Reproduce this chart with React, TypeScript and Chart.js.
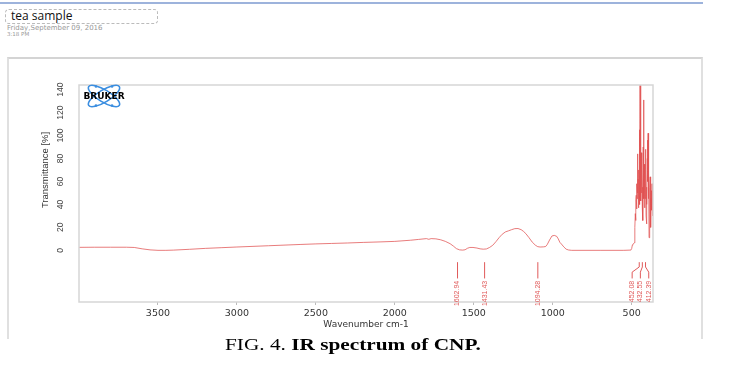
import React, { useEffect, useRef } from "react";
import { Chart, registerables } from "chart.js";

Chart.register(...registerables);

// ---- Data ----
const wavenumbers = [
  4000, 3900, 3800, 3700, 3650, 3600, 3550, 3500, 3450, 3400, 3300, 3200, 3100, 3000,
  2800, 2600, 2500, 2400, 2300, 2200, 2100, 2000, 1900, 1850, 1800, 1785, 1770, 1740,
  1710, 1680, 1650, 1630, 1610, 1590, 1570, 1555, 1540, 1525, 1505, 1480, 1460, 1440,
  1420, 1400, 1380, 1360, 1340, 1320, 1300, 1280, 1260, 1240, 1220, 1200, 1185, 1170,
  1150, 1130, 1110, 1095, 1080, 1060, 1045, 1035, 1020, 1005, 990, 975, 965, 955, 945,
  930, 915, 900, 880, 700, 550, 510, 505, 500, 496, 492, 488, 484, 481, 479, 477, 475,
  473, 471, 469, 467, 465, 463, 461, 459, 457, 455, 453, 451, 449, 447, 445, 443, 441,
  439, 437, 435, 433, 431, 429, 427, 425, 424, 422, 420, 418, 416, 414, 412, 411, 409,
  407, 405, 403, 401, 400, 398, 396, 394, 392, 390, 388, 386, 384, 383, 381, 379, 377,
  375, 373, 371, 369, 367,
];
const transmittance = [
  2.6, 2.7, 2.7, 2.7, 2.5, 1.3, 0.4, 0.0, 0.0, 0.2, 0.9, 1.7, 2.3, 2.9,
  4.0, 5.1, 5.6, 6.0, 6.4, 6.9, 7.3, 7.8, 8.8, 9.5, 10.2, 9.6, 10.2, 10.0,
  9.2, 7.8, 5.8, 3.8, 1.5, 0.4, 0.2, 0.5, 1.8, 2.5, 2.5, 2.0, 1.3, 1.0,
  1.2, 2.5, 4.4, 7.5, 11, 14, 16, 17, 18, 18.9, 19, 18, 16.5, 14.5,
  11, 7.2, 4.5, 3.2, 2.9, 3.0, 3.3, 5, 9, 12.5, 13, 12.2, 10, 7, 5.5,
  3, 1, 0.3, 0, 0, 0, 0.2, 0.3, 1.5, 4.5, 5.5, 6.0, 6.5, 9, 20, 32, 26,
  44, 48, 36, 58, 45, 84, 50, 62, 37, 70, 48, 105, 40, 150, 60, 118, 43,
  85, 50, 72, 38, 55, 26, 90, 60, 131, 45, 75, 37, 60, 45, 88, 70, 30,
  23, 55, 40, 80, 96, 60, 102, 45, 70, 11, 40, 30, 55, 64, 35, 20, 45,
  52, 35, 58, 30, 40,
];

const xTicks = [3500, 3000, 2500, 2000, 1500, 1000, 500];
const yTicks = [0, 20, 40, 60, 80, 100, 120, 140];

const peakPositions = [1602.94, 1431.43, 1094.28, 452.08, 432.55, 412.39];
const peakLabels = ["1602.94", "1431.43", "1094.28", "452.08", "432.55", "412.39"];
const peakLabelAt = [1602.94, 1431.43, 1094.28, 497, 445, 392];

const xTitle = "Wavenumber cm-1";
const yTitle = "Transmittance [%]";

const RED = "#e05a5a";
const LINE = "rgba(224, 80, 80, 0.75)";

const overlayPlugin = {
  id: "overlay",
  afterDraw(chart: any) {
    const { ctx, chartArea: a } = chart;
    const x = chart.scales.x;
    const y = chart.scales.y;
    ctx.save();
    // plot box
    ctx.strokeStyle = "#d6d6d6";
    ctx.lineWidth = 1.5;
    ctx.strokeRect(a.left, a.top, a.right - a.left, a.bottom - a.top);

    // y tick labels (rotated)
    ctx.fillStyle = "#444";
    ctx.font = "8.5px 'Liberation Sans Narrow', 'Liberation Sans', Arial";
    ctx.textAlign = "center";
    ctx.textBaseline = "middle";
    for (const v of yTicks) {
      ctx.save();
      ctx.translate(a.left - 18, y.getPixelForValue(v));
      ctx.rotate(-Math.PI / 2);
      ctx.fillText(String(v), 0, 0);
      ctx.restore();
    }
    // y title
    ctx.save();
    ctx.font = "9.5px 'Liberation Sans Narrow', 'Liberation Sans', Arial";
    ctx.fillStyle = "#333";
    ctx.translate(a.left - 34, (y.getPixelForValue(0) + y.getPixelForValue(140)) / 2);
    ctx.rotate(-Math.PI / 2);
    ctx.fillText(yTitle, 0, 0);
    ctx.restore();

    // x title
    ctx.font = "9px 'DejaVu Sans'";
    ctx.fillStyle = "#333";
    ctx.fillText(xTitle, (a.left + a.right) / 2, a.bottom + 23);

    // peak annotations
    ctx.strokeStyle = RED;
    ctx.fillStyle = RED;
    ctx.lineWidth = 1;
    ctx.font = "7px 'Liberation Sans Narrow', 'Liberation Sans', Arial";
    for (let i = 0; i < peakPositions.length; i++) {
      const px = x.getPixelForValue(peakPositions[i]);
      const lx = x.getPixelForValue(peakLabelAt[i]);
      ctx.beginPath();
      if (Math.abs(px - lx) < 0.5) {
        ctx.moveTo(px, y.getPixelForValue(-10.3));
        ctx.lineTo(px, y.getPixelForValue(-24.5));
      } else {
        ctx.moveTo(px, y.getPixelForValue(-10.3));
        ctx.lineTo(px, y.getPixelForValue(-14.5));
        ctx.lineTo(lx, y.getPixelForValue(-19));
        ctx.lineTo(lx, y.getPixelForValue(-24.5));
      }
      ctx.stroke();
      ctx.save();
      ctx.translate(lx, y.getPixelForValue(-26.5));
      ctx.rotate(-Math.PI / 2);
      ctx.textAlign = "right";
      ctx.textBaseline = "middle";
      ctx.fillText(peakLabels[i], 0, 0);
      ctx.restore();
    }

    // Bruker logo
    const cx = a.left + 25;
    const cy = a.top + 11;
    ctx.strokeStyle = "#3b8ee0";
    ctx.fillStyle = "#3b8ee0";
    ctx.lineWidth = 1.6;
    for (const ang of [0.55, -0.55]) {
      ctx.beginPath();
      ctx.ellipse(cx, cy, 18, 6, ang, 0, Math.PI * 2);
      ctx.stroke();
    }
    for (const [dx, dy] of [[-13, -10], [13, 10], [-13, 10], [13, -10]]) {
      ctx.beginPath();
      ctx.arc(cx + dx * 0.62, cy + dy * 0.95, 1.3, 0, Math.PI * 2);
      ctx.fill();
    }
    ctx.fillStyle = "#000";
    ctx.font = "bold 9px 'DejaVu Sans'";
    ctx.textAlign = "center";
    ctx.textBaseline = "middle";
    ctx.fillText("BRUKER", cx, cy + 1);
    ctx.restore();
  },
};

function SpectrumChart() {
  const ref = useRef<HTMLCanvasElement>(null);
  useEffect(() => {
    if (!ref.current) return;
    const points = wavenumbers.map((w, i) => ({ x: w, y: transmittance[i] }));
    const chart = new Chart(ref.current, {
      type: "line",
      data: {
        datasets: [
          {
            data: points,
            borderColor: LINE,
            borderWidth: 1,
            pointRadius: 0,
            fill: false,
            tension: 0,
          },
        ],
      },
      options: {
        animation: false,
        responsive: false,
        events: [],
        layout: { padding: { left: 79, top: 85, right: 95, bottom: 0 } },
        plugins: { legend: { display: false }, tooltip: { enabled: false } },
        scales: {
          x: {
            type: "linear",
            reverse: true,
            min: 365,
            max: 4000,
            afterBuildTicks: (s: any) => {
              s.ticks = xTicks.map((v) => ({ value: v }));
            },
            afterFit: (s: any) => {
              s.height = 78;
            },
            grid: {
              display: true,
              drawOnChartArea: false,
              drawTicks: true,
              tickLength: 3,
              color: "#bbb",
            },
            border: { display: false },
            ticks: {
              color: "#333",
              font: { family: "'DejaVu Sans'", size: 9.5 },
              padding: 3,
              maxRotation: 0,
              autoSkip: false,
              callback: (v: any) => String(v),
            },
          },
          y: {
            display: false,
            min: -45,
            max: 144,
          },
        },
      },
      plugins: [overlayPlugin],
    } as any);
    return () => chart.destroy();
  }, []);
  return (
    <canvas
      ref={ref}
      width={748}
      height={380}
      style={{ position: "absolute", left: 0, top: 0, width: 748, height: 380 }}
    />
  );
}

export default function App() {
  return (
    <div
      style={{
        position: "absolute",
        left: 0,
        top: 0,
        width: 748,
        height: 380,
        background: "#fff",
        overflow: "hidden",
        fontFamily: "'Liberation Sans', Arial, sans-serif",
      }}
    >
      <div style={{ position: "absolute", left: 0, top: 2, width: 703, height: 2, background: "#9db3dc" }} />
      <div
        style={{
          position: "absolute",
          left: 5,
          top: 9,
          width: 151,
          height: 13,
          border: "1px dashed #bbb",
          borderRadius: 4,
        }}
      />
      <div style={{ position: "absolute", left: 11, top: 8, fontSize: 12, lineHeight: "16px", fontFamily: "'Open Sans', sans-serif", color: "#111" }}>
        tea sample
      </div>
      <div style={{ position: "absolute", left: 7, top: 24, fontSize: 7, lineHeight: "8px", fontFamily: "'DejaVu Sans'", color: "#999" }}>
        Friday,September 09, 2016
      </div>
      <div style={{ position: "absolute", left: 7, top: 31, fontSize: 5.5, lineHeight: "6px", fontFamily: "'DejaVu Sans'", color: "#999" }}>
        3:18 PM
      </div>
      <div
        style={{
          position: "absolute",
          left: 7,
          top: 57,
          width: 692,
          height: 280,
          borderLeft: "2px solid #e0e0e0",
          borderTop: "2px solid #d4d4d4",
          borderRight: "2px solid #e0e0e0",
        }}
      />
      <SpectrumChart />
      <div
        style={{
          position: "absolute",
          left: 225,
          top: 335,
          fontFamily: "'Liberation Serif', 'Times New Roman', serif",
          fontSize: 16,
          lineHeight: "20px",
          color: "#000",
          whiteSpace: "nowrap",
          transform: "scaleX(1.33)",
          transformOrigin: "left center",
        }}
      >
        FIG. 4. <b>IR spectrum of CNP.</b>
      </div>
    </div>
  );
}
